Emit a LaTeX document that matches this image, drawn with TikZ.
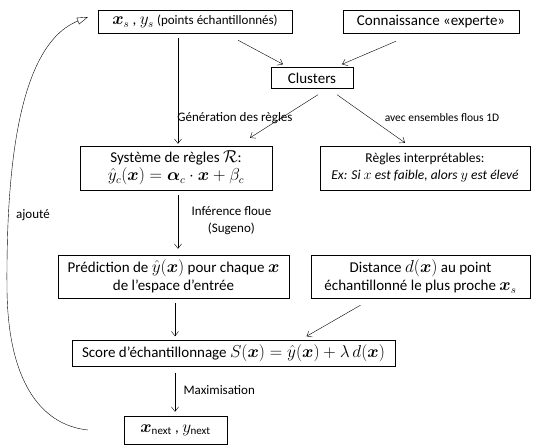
\documentclass[tikz,border=0pt]{standalone}
\usepackage{amsmath,amssymb}
\usepackage{fontspec}
\setmainfont{Carlito}
\usetikzlibrary{arrows.meta}
\def\vx{\boldsymbol{x}}
\def\yhat{\hat{y}}
\def\m#1{{\fontsize{16.2}{18}\selectfont$#1$}}

\begin{document}
\begin{tikzpicture}[x=1pt,y=-1pt,
   boite/.style={draw,thin,align=center,inner sep=2pt,font=\fontsize{15}{18}\selectfont},
   etiq/.style={align=center,font=\fontsize{13}{17}\selectfont},
   fleche/.style={-{Straight Barb[length=4.5pt,width=7pt]},thin}]
   \useasboundingbox (0,0) rectangle (537,446);
% boites du haut
   \node[boite,minimum width=194,minimum height=23] (xs) at (195,21.5)
   {\m{\vx_s} , \m{y_s} {\fontsize{13}{15}\selectfont(points échantillonnés)}};
   \node[boite,minimum width=176,minimum height=23] (expert) at (431,21.5)
   {Connaissance «experte»};
   \node[boite,minimum width=82,minimum height=21] (clusters) at (312,78)
   {Clusters};
% regles
   \node[boite,minimum width=192,minimum height=44] (regles) at (176,168)
   {Système de règles \m{\mathcal{R}}:\\ \m{\yhat_c(\vx) = \boldsymbol{\alpha}_c \cdot \vx + \beta_c}};
   \node[boite,minimum width=210,minimum height=44,font=\fontsize{13.5}{17}\selectfont]
   (interp) at (425,168)
   {Règles interprétables:\\ \textit{Ex: Si $x$ est faible, alors $y$ est élevé}};
% prediction et distance
   \node[boite,minimum width=231,minimum height=43] (pred) at (173.5,276.5)
   {Prédiction de \m{\yhat(\vx)} pour chaque \m{\vx}\\ de l’espace d’entrée};
   \node[boite,minimum width=219,minimum height=43] (dist) at (420.5,276.5)
   {Distance \m{d(\vx)} au point\\ échantillonné le plus proche \m{\vx_s}};
% score et point suivant
   \node[boite,minimum width=323,minimum height=26] (score) at (233.5,353.5)
   {Score d’échantillonnage \m{S(\vx) = \yhat(\vx) + \lambda\, d(\vx)}};
   \node[boite,minimum width=103,minimum height=28] (next) at (175.5,430)
   {\m{\vx_{\text{\fontsize{11}{12}\selectfont next}}} , \m{y_{\text{\fontsize{11}{12}\selectfont next}}}};
% etiquettes
   \node[etiq] (gen) at (235,118) {Génération des règles};
   \node[etiq,font=\fontsize{11.5}{14}\selectfont] (flous) at (442,118) {avec ensembles flous 1D};
   \node[etiq,anchor=west] (infer) at (188,221) {Inférence floue\\(Sugeno)};
   \node[etiq,anchor=west] (maxi) at (180,390) {Maximisation};
   \node[etiq] (ajoute) at (33,215) {ajouté};
% fleches
   \draw[fleche] ([yshift=-5pt]xs.south -| 178,0) -- ([yshift=2pt]regles.north -| 178,0);
   \draw[fleche] ([xshift=43pt,yshift=-7pt]xs.south) -- ([xshift=-29pt,yshift=3pt]clusters.north);
   \draw[fleche] ([xshift=-35pt,yshift=-8pt]expert.south) -- ([xshift=30pt,yshift=3pt]clusters.north);
   \draw[fleche] ([xshift=6pt,yshift=-6pt]clusters.south) -- ([xshift=74pt,yshift=8pt]regles.north);
   \draw[fleche] ([xshift=25pt,yshift=-6pt]clusters.south) -- ([xshift=-20pt,yshift=3pt]interp.north);
   \draw[fleche] ([yshift=-5pt]regles.south -| 178,0) -- ([yshift=6pt]pred.north -| 178,0);
   \draw[fleche] ([yshift=-5pt]pred.south -| 175,0) -- ([yshift=4pt]score.north -| 175,0);
   \draw[fleche] ([xshift=-60pt,yshift=-7pt]dist.south) -- ([xshift=73pt,yshift=4pt]score.north);
   \draw[fleche] ([yshift=-6pt]score.south -| 175,0) -- ([yshift=4pt]next.north -| 175,0);
% boucle
   \coordinate (depart) at (88,430);
   \coordinate (arrivee) at (88,17);
   \draw[-{Triangle[open,length=11pt,width=7pt]},thin] (depart) .. controls (40,425) and (8,380) ..
   (7,290) .. controls (6,170) and (18,45) .. (arrivee);
\end{tikzpicture}
\end{document}
